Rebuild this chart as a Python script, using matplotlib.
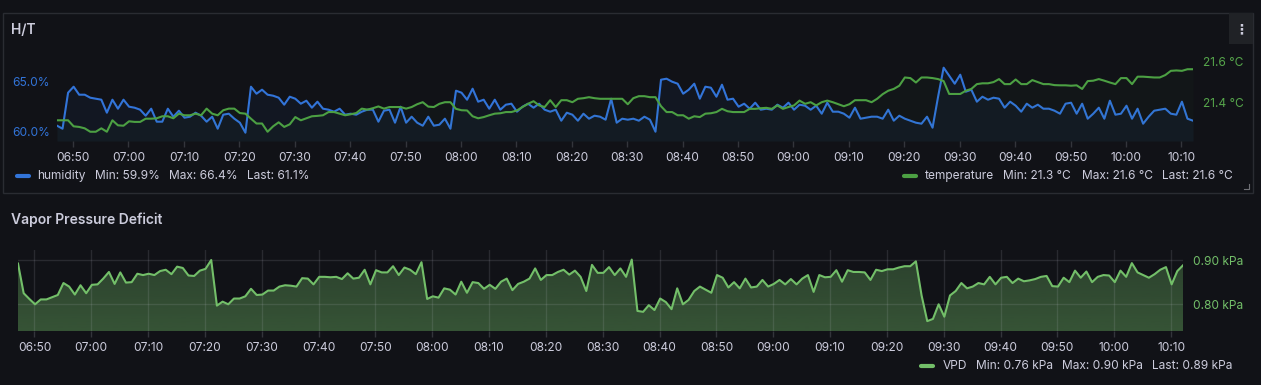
import numpy as np
import matplotlib.pyplot as plt
import matplotlib.dates as mdates
from matplotlib.colors import to_rgb
from matplotlib.patches import Rectangle

plt.rcParams['font.family'] = ['Inter', 'DejaVu Sans']

# one sample per minute, starting 06:47
start = np.datetime64('2024-05-01T06:47:06')

humidity = [
    60.6, 60.3, 63.9, 64.5, 63.7, 63.7, 63.4, 63.3, 63.2, 61.9,
    63.2, 62.3, 63.2, 62.5, 62.4, 62.2, 61.6, 62.3, 61.0, 61.0,
    62.3, 61.5, 62.1, 61.4, 61.5, 61.9, 61.6, 61.0, 61.5, 60.3,
    61.7, 61.8, 61.3, 60.9, 59.9, 64.5, 63.8, 64.2, 63.7, 63.6,
    63.4, 62.7, 63.5, 63.3, 62.8, 63.1, 62.4, 63.0, 62.3, 62.2,
    62.0, 62.3, 61.7, 61.8, 61.7, 62.0, 62.2, 62.2, 61.0, 62.1,
    62.2, 60.9, 62.5, 60.9, 61.5, 60.9,
    60.6, 61.5, 60.6, 60.7, 61.3, 60.3,
    64.1, 63.9, 63.2, 64.3, 63.0, 63.2, 62.3, 63.2, 62.2, 62.7,
    62.8, 62.0, 62.5, 62.8, 62.4, 62.8, 62.2, 62.0, 62.2, 61.1,
    61.9, 61.7, 61.1, 61.8, 61.3, 61.6, 61.5, 61.2, 63.3, 60.9,
    61.3, 61.2, 61.3, 61.1, 61.5, 61.2, 60.0, 65.2, 65.3, 65.0,
    64.8, 63.8, 64.2, 64.8, 63.3, 64.5, 64.4, 63.5, 64.7, 63.2,
    63.3, 62.5, 62.8, 62.3, 62.9, 62.2, 62.3, 62.2, 62.7, 62.4,
    62.9, 62.2, 62.7, 62.6, 62.2, 62.6, 61.8,
    62.9, 62.0, 62.0, 61.8, 61.4, 62.4, 61.3, 61.4, 61.5, 61.5,
    61.3, 62.2, 61.1, 61.6, 61.3, 61.1, 60.9, 60.8, 61.5, 60.4,
    63.5, 66.4, 65.6, 64.8, 65.7, 64.0, 64.2, 63.0, 63.5, 63.2,
    63.4, 63.3, 62.4, 63.0, 62.6, 62.0, 62.8, 62.4, 62.7, 62.3,
    62.3, 62.1, 61.8, 62.8, 62.9, 61.8, 62.8, 61.3, 61.8, 62.4,
    61.3, 63.1, 61.7, 61.8, 62.6, 61.3, 62.3, 60.8, 61.5, 62.1,
    62.2, 62.3, 61.8, 61.7, 63.0, 61.3, 61.1,
]

temperature = [
    21.31, 21.31, 21.31, 21.28, 21.277, 21.27, 21.253, 21.253, 21.27, 21.253,
    21.31, 21.285, 21.283, 21.305, 21.302, 21.302, 21.318, 21.318, 21.32, 21.33,
    21.33, 21.32, 21.343, 21.335, 21.335, 21.343, 21.335, 21.368, 21.343, 21.335,
    21.36, 21.368, 21.368, 21.346, 21.343, 21.318, 21.294, 21.294, 21.253, 21.28,
    21.30, 21.277, 21.29, 21.326, 21.31, 21.32, 21.33, 21.332, 21.335, 21.351,
    21.351, 21.343, 21.335, 21.34, 21.346, 21.368, 21.363, 21.37, 21.379, 21.368,
    21.376, 21.376, 21.376, 21.368, 21.376, 21.39,
    21.40, 21.378, 21.376, 21.392, 21.40, 21.40,
    21.367, 21.36, 21.359, 21.33, 21.32, 21.326, 21.335, 21.343, 21.345, 21.351,
    21.351, 21.359, 21.376, 21.392, 21.405, 21.384, 21.376, 21.41, 21.376, 21.41,
    21.41, 21.40, 21.417, 21.42, 21.425, 21.42, 21.417, 21.417, 21.417, 21.417,
    21.417, 21.39, 21.42, 21.43, 21.43, 21.425, 21.425, 21.38, 21.351, 21.351,
    21.335, 21.335, 21.318, 21.33, 21.326, 21.343, 21.345, 21.351, 21.367, 21.355,
    21.351, 21.351, 21.351, 21.367, 21.367, 21.37, 21.372, 21.367, 21.384, 21.367,
    21.376, 21.384, 21.408, 21.392, 21.40, 21.384, 21.40,
    21.408, 21.40, 21.39, 21.38, 21.39, 21.41, 21.41, 21.41, 21.40, 21.417,
    21.44, 21.457, 21.466, 21.482, 21.523, 21.52, 21.498, 21.523, 21.523, 21.52,
    21.515, 21.505, 21.441, 21.441, 21.441, 21.457, 21.466, 21.49, 21.494, 21.494,
    21.50, 21.515, 21.49, 21.49, 21.513, 21.49, 21.49, 21.51, 21.50, 21.49,
    21.49, 21.485, 21.484, 21.484, 21.482, 21.484, 21.466, 21.505, 21.507, 21.515,
    21.507, 21.498, 21.49, 21.52, 21.52, 21.49, 21.527, 21.527, 21.525, 21.523,
    21.523, 21.535, 21.556, 21.558, 21.556, 21.564, 21.564,
]

vpd = [
    0.892, 0.825, 0.812, 0.800, 0.811, 0.811, 0.816, 0.821, 0.848, 0.840,
    0.822, 0.843, 0.825, 0.844, 0.845, 0.858, 0.873, 0.846, 0.872, 0.849,
    0.850, 0.869, 0.866, 0.869, 0.866, 0.875, 0.878, 0.868, 0.885, 0.882,
    0.865, 0.864, 0.876, 0.880, 0.900, 0.797, 0.806, 0.800, 0.813, 0.813,
    0.818, 0.835, 0.821, 0.822, 0.831, 0.831, 0.840, 0.843, 0.842, 0.840,
    0.859, 0.858, 0.845, 0.862, 0.862, 0.861, 0.862, 0.857, 0.870, 0.858,
    0.860, 0.878, 0.845, 0.877, 0.872, 0.872, 0.886, 0.866, 0.883, 0.878,
    0.868, 0.895, 0.812, 0.818, 0.815, 0.836, 0.833, 0.822, 0.851, 0.826,
    0.850, 0.848, 0.835, 0.844, 0.835, 0.851, 0.858, 0.832, 0.846, 0.851,
    0.858, 0.881, 0.855, 0.866, 0.866, 0.873, 0.878, 0.867, 0.876, 0.862,
    0.830, 0.889, 0.871, 0.871, 0.884, 0.866, 0.881, 0.862, 0.901, 0.785,
    0.783, 0.798, 0.787, 0.813, 0.805, 0.789, 0.836, 0.800, 0.810, 0.830,
    0.840, 0.833, 0.826, 0.866, 0.860, 0.838, 0.850, 0.836, 0.858, 0.838,
    0.840, 0.855, 0.840, 0.846, 0.855, 0.845, 0.857, 0.845, 0.858, 0.866,
    0.828, 0.866, 0.861, 0.862, 0.877, 0.851, 0.877, 0.873, 0.873, 0.872,
    0.855, 0.878, 0.875, 0.879, 0.879, 0.883, 0.886, 0.886, 0.897, 0.820,
    0.762, 0.767, 0.800, 0.772, 0.820, 0.830, 0.848, 0.836, 0.840, 0.848,
    0.845, 0.862, 0.845, 0.860, 0.862, 0.848, 0.858, 0.852, 0.854, 0.857,
    0.862, 0.864, 0.841, 0.840, 0.860, 0.850, 0.876, 0.860, 0.874, 0.850,
    0.862, 0.866, 0.865, 0.850, 0.876, 0.862, 0.893, 0.872, 0.866, 0.860,
    0.868, 0.878, 0.884, 0.845, 0.875, 0.888,
]

times = start + np.arange(len(humidity)) * np.timedelta64(60, 's')

BG = '#111217'
TEXT = '#ccccdc'
BLUE = '#3274D9'
GREEN = '#4CA043'
GREEN_LBL = '#56A64B'
VGREEN = '#73BF69'
GRID = '#ccccdc'
W, H = 1261, 385

fig = plt.figure(figsize=(W / 100, H / 100), dpi=100, facecolor=BG)

# pixel-space layer for panel chrome, titles and legends
bg = fig.add_axes([0, 0, 1, 1], zorder=-1)
bg.set_xlim(0, W)
bg.set_ylim(H, 0)
bg.axis('off')
bg.add_patch(Rectangle((3, 12.5), 1250, 180.5, fill=False, ec='#2a2c32', lw=1))
bg.add_patch(Rectangle((1229, 13), 24, 31, color='#202226', lw=0))
bg.text(1241, 29, '\u22ee', color=TEXT, fontsize=10, ha='center', va='center',
        family='DejaVu Sans', fontweight='bold')
bg.plot([1244, 1249, 1249], [189, 189, 184], color='#6e6f75', lw=0.8)
bg.text(11, 30, 'H/T', color=TEXT, fontsize=10, fontweight='semibold', va='center')
bg.text(11, 220, 'Vapor Pressure Deficit', color=TEXT, fontsize=10,
        fontweight='semibold', va='center')


def legend(x_swatch, y, color, parts):
    bg.plot([x_swatch, x_swatch + 12], [y, y], color=color, lw=3,
            solid_capstyle='round')
    for x, s in parts:
        bg.text(x, y, s, color=TEXT, fontsize=8.6, va='center')


legend(17, 176, BLUE, [(37.5, 'humidity'), (95, 'Min: 59.9%'),
                       (169, 'Max: 66.4%'), (247, 'Last: 61.1%')])
legend(904, 176, GREEN, [(925, 'temperature'), (1003, 'Min: 21.3 °C'),
                         (1081.5, 'Max: 21.6 °C'), (1162.5, 'Last: 21.6 °C')])
legend(921, 366, VGREEN, [(942.5, 'VPD'), (975.5, 'Min: 0.76 kPa'),
                          (1062, 'Max: 0.90 kPa'), (1152.5, 'Last: 0.89 kPa')])

locator = mdates.MinuteLocator(byminute=range(0, 60, 10))
fmt = mdates.DateFormatter('%H:%M')

# --- H/T panel
ax = fig.add_axes([57 / W, 1 - 141 / H, (1193 - 57) / W, (141 - 62) / H])
ax.set_facecolor('none')
h_lo, h_hi = 59.07, 66.97
ax.fill_between(times, humidity, h_lo, color=BLUE, alpha=0.06, lw=0)
ax.plot(times, humidity, color=BLUE, lw=1.5)
ax.set_ylim(h_lo, h_hi)
ax.set_xlim(times[0], times[-1])
ax.set_yticks([60, 65])
ax.set_yticklabels(['60.0%', '65.0%'])
ax.xaxis.set_major_locator(locator)
ax.xaxis.set_major_formatter(fmt)
ax.tick_params(axis='x', color='#33353b', labelcolor=TEXT, length=4, width=1,
               pad=4, labelsize=8.6)
ax.tick_params(axis='y', length=0, pad=5, labelcolor=BLUE, labelsize=8.6)
for s in ax.spines.values():
    s.set_visible(False)

ax2 = ax.twinx()
ax2.fill_between(times, temperature, 21.207, color=GREEN, alpha=0.03, lw=0)
ax2.plot(times, temperature, color=GREEN, lw=1.5)
ax2.set_ylim(21.207, 21.595)
ax2.set_yticks([21.4, 21.6])
ax2.set_yticklabels(['21.4 °C', '21.6 °C'])
ax2.tick_params(axis='y', length=0, pad=7, labelcolor=GREEN_LBL, labelsize=8.6)
for s in ax2.spines.values():
    s.set_visible(False)

# --- VPD panel
bx = fig.add_axes([18 / W, 1 - 331 / H, (1183 - 18) / W, (331 - 250) / H])
bx.set_facecolor('none')
v_lo, v_hi = 0.7397, 0.9226
area = bx.fill_between(times, vpd, v_lo, facecolor='none', lw=0)
# fill gets a little more opaque towards the bottom
grad = np.zeros((64, 1, 4))
grad[:, 0, :3] = to_rgb(VGREEN)
grad[:, 0, 3] = np.linspace(0.38, 0.27, 64)
x0, x1 = mdates.date2num(times[0]), mdates.date2num(times[-1])
im = bx.imshow(grad, extent=[x0, x1, v_lo, v_hi], origin='lower',
               aspect='auto', interpolation='bilinear', zorder=1)
im.set_clip_path(area.get_paths()[0], transform=bx.transData)
bx.plot(times, vpd, color=VGREEN, lw=1.5, zorder=3)
bx.set_ylim(v_lo, v_hi)
bx.set_xlim(times[0], times[-1])
bx.set_yticks([0.8, 0.9])
bx.set_yticklabels(['0.80 kPa', '0.90 kPa'])
bx.yaxis.tick_right()
bx.xaxis.set_major_locator(locator)
bx.xaxis.set_major_formatter(fmt)
bx.set_axisbelow(False)
bx.grid(True, color=GRID, alpha=0.13, lw=1, zorder=2)
bx.tick_params(axis='x', color='#33353b', labelcolor=TEXT, length=4, width=1,
               pad=4, labelsize=8.6)
bx.tick_params(axis='y', length=0, pad=7, labelcolor=VGREEN, labelsize=8.6)
for s in bx.spines.values():
    s.set_visible(False)

fig.savefig('out.png', dpi=100, facecolor=BG)
